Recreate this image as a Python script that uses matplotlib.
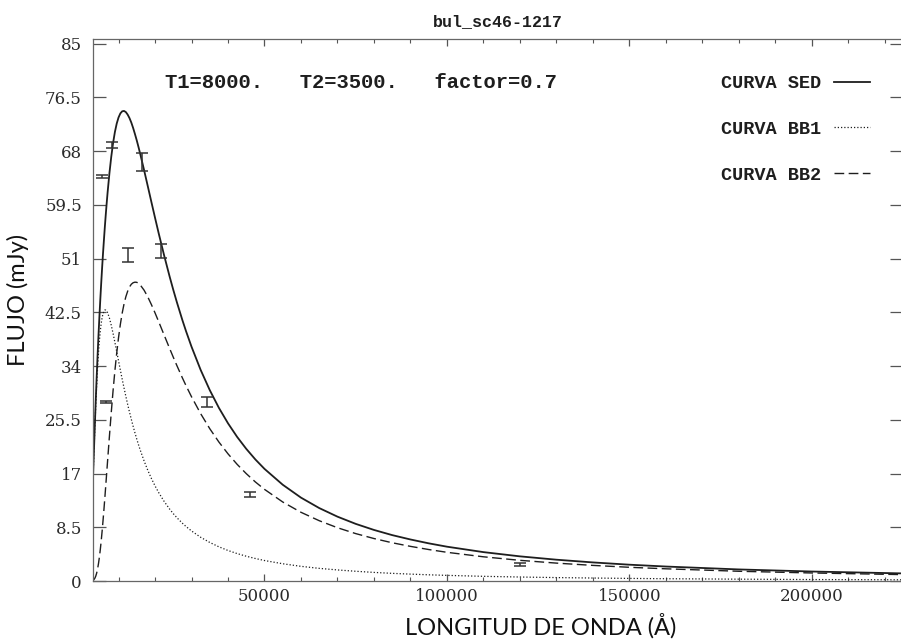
import matplotlib
matplotlib.use("Agg")
import matplotlib.pyplot as plt
from matplotlib.ticker import FixedLocator, MultipleLocator

# longitud de onda (A) donde se leyeron las curvas
wave = [3000, 3250, 3500, 3750, 4000, 4250, 4500, 4750, 5000, 5250, 5500, 5750,
        6000, 6250, 6500, 6750, 7000, 7500, 8000, 8500, 9000, 9500, 10000, 10500,
        11000, 11500, 12000, 12500, 13000, 13500, 14000, 14500, 15000, 15500,
        16000, 17000, 18000, 19000, 20000, 21000, 22500, 24000, 25000, 26000,
        27500, 28500, 30000, 32500, 35000, 37500, 40000, 42500, 45000, 47500,
        50000, 55000, 60000, 65000, 70000, 75000, 80000, 85000, 90000, 95000,
        100000, 110000, 120000, 130000, 140000, 150000, 160000, 180000, 200000, 225000]

# curva BB1 (T1=8000)
bb1 = [16.23, 20.28, 24.15, 27.74, 30.93, 33.70, 36.06, 38.00, 39.56, 40.77, 41.68, 42.31,
       42.67, 42.87, 42.86, 42.71, 42.44, 41.60, 40.47, 39.17, 37.76, 36.30, 34.82, 33.36,
       31.93, 30.55, 29.22, 27.94, 26.73, 25.58, 24.48, 23.43, 22.44, 21.51,
       20.63, 19.00, 17.54, 16.23, 15.05, 13.99, 12.59, 11.38, 10.66, 10.01,
       9.14, 8.62, 7.92, 6.92, 6.10, 5.41, 4.83, 4.34, 3.92, 3.56,
       3.24, 2.73, 2.32, 2.00, 1.75, 1.54, 1.36, 1.21, 1.09, 0.98,
       0.89, 0.74, 0.63, 0.54, 0.47, 0.41, 0.36, 0.29, 0.23, 0.19]

# curva BB2 (T2=3500)
bb2 = [0.10, 0.22, 0.43, 0.76, 1.24, 1.90, 2.74, 3.76, 4.97, 6.35, 7.89, 9.56,
       11.33, 13.19, 15.11, 17.06, 19.02, 22.90, 26.63, 30.11, 33.27, 36.07, 38.52, 40.62,
       42.38, 43.82, 44.97, 45.85, 46.51, 46.95, 47.19, 47.28, 47.25, 47.08,
       46.80, 46.01, 44.96, 43.74, 42.42, 41.03, 38.91, 36.79, 35.41, 34.07,
       32.13, 30.90, 29.15, 26.48, 24.10, 21.99, 20.12, 18.46, 16.99, 15.67,
       14.50, 12.50, 10.87, 9.54, 8.43, 7.50, 6.72, 6.05, 5.48, 4.98,
       4.54, 3.83, 3.27, 2.83, 2.47, 2.17, 1.93, 1.54, 1.27, 1.01]

# curva SED
sed = [16.33, 20.50, 24.58, 28.50, 32.17, 35.60, 38.80, 41.76, 44.53, 47.12, 49.57, 51.87,
       54.00, 56.06, 57.97, 59.77, 61.46, 64.50, 67.10, 69.28, 71.03, 72.37, 73.34, 73.98,
       74.31, 74.37, 74.19, 73.79, 73.24, 72.53, 71.67, 70.71, 69.69, 68.59,
       67.43, 65.01, 62.50, 59.97, 57.47, 55.02, 51.50, 48.17, 46.07, 44.08,
       41.27, 39.52, 37.07, 33.40, 30.20, 27.40, 24.95, 22.80, 20.91, 19.23,
       17.74, 15.23, 13.19, 11.54, 10.18, 9.04, 8.08, 7.26, 6.57, 5.96,
       5.43, 4.57, 3.90, 3.37, 2.94, 2.58, 2.29, 1.83, 1.50, 1.20]

# fotometria observada
obs_wave = [5500, 6450, 8150, 12650, 16500, 21600, 34300, 46000, 120000]
obs_flux = [64.0, 28.3, 69.0, 51.6, 66.3, 52.2, 28.3, 13.7, 2.6]
obs_err = [0.3, 0.15, 0.45, 1.1, 1.4, 1.05, 0.75, 0.35, 0.25]

yticks = [0, 8.5, 17, 25.5, 34, 42.5, 51, 59.5, 68, 76.5, 85]
ytick_labels = ["0", "8.5", "17", "25.5", "34", "42.5", "51", "59.5", "68", "76.5", "85"]
xticks = [50000, 100000, 150000, 200000]
xtick_labels = ["50000", "100000", "150000", "200000"]

W, H = 901, 641
fig = plt.figure(figsize=(W / 100, H / 100), dpi=100)
ax = fig.add_axes([93 / W, 1 - 581 / H, 810 / W, 542 / H])

ink = "#1e1e1e"
ax.plot(wave, sed, color=ink, lw=1.3, ls="-", label="CURVA SED")
ax.plot(wave, bb1, color=ink, lw=0.9, ls=(0, (1, 1.6)), label="CURVA BB1")
ax.plot(wave, bb2, color=ink, lw=1.0, ls=(0, (7, 3.2)), label="CURVA BB2")
ax.errorbar(obs_wave, obs_flux, yerr=obs_err, fmt="none", ecolor="#333333",
            elinewidth=1.1, capsize=4.5, capthick=1.1)

ax.set_xlim(3000, 225000)
ax.set_ylim(0, 85.75)

ax.xaxis.set_major_locator(FixedLocator(xticks))
ax.set_xticklabels(xtick_labels)
ax.xaxis.set_minor_locator(MultipleLocator(10000))
ax.yaxis.set_major_locator(FixedLocator(yticks))
ax.set_yticklabels(ytick_labels)

for lab in ax.get_xticklabels() + ax.get_yticklabels():
    lab.set_fontfamily("DejaVu Serif")
    lab.set_fontsize(12)
    lab.set_color("#2a2a2a")

ax.tick_params(axis="x", which="major", direction="in", length=5, width=0.9,
               top=True, bottom=True, pad=5, color="#555555")
ax.tick_params(axis="x", which="minor", direction="in", length=2.6, width=0.8,
               top=True, bottom=True, color="#555555")
ax.tick_params(axis="y", which="major", direction="in", length=9.5, width=0.9,
               left=True, right=True, pad=8, color="#555555")
for s in ax.spines.values():
    s.set_color("#666666")
    s.set_linewidth(0.9)

mono = "Liberation Mono"
fig.text(498 / W, 1 - 22 / H, "bul_sc46-1217", ha="center", va="center",
         family=mono, fontsize=12, fontweight="bold", color=ink)
fig.text(165 / W, 1 - 83 / H, "T1=8000.   T2=3500.   factor=0.7", ha="left",
         va="center", family=mono, fontsize=14.8, fontweight="bold", color=ink)

leg = ax.legend(loc="upper right", bbox_to_anchor=(870 / W, 1 - 75 / H),
                bbox_transform=fig.transFigure, frameon=False, markerfirst=False,
                handlelength=1.95, handletextpad=0.65, labelspacing=1.55,
                borderpad=0, borderaxespad=0,
                prop={"family": mono, "size": 13.4, "weight": "bold"})
for t in leg.get_texts():
    t.set_color(ink)

fig.text(18 / W, 1 - 300 / H, "FLUJO (mJy)", rotation=90, ha="center", va="center",
         family="Lato", fontsize=17, color="#111111")
fig.text(541 / W, 1 - 626 / H, "LONGITUD DE ONDA (\u00c5)", ha="center", va="center",
         family="Lato", fontsize=17, color="#111111")

fig.savefig("out.png", dpi=100, facecolor="white")
